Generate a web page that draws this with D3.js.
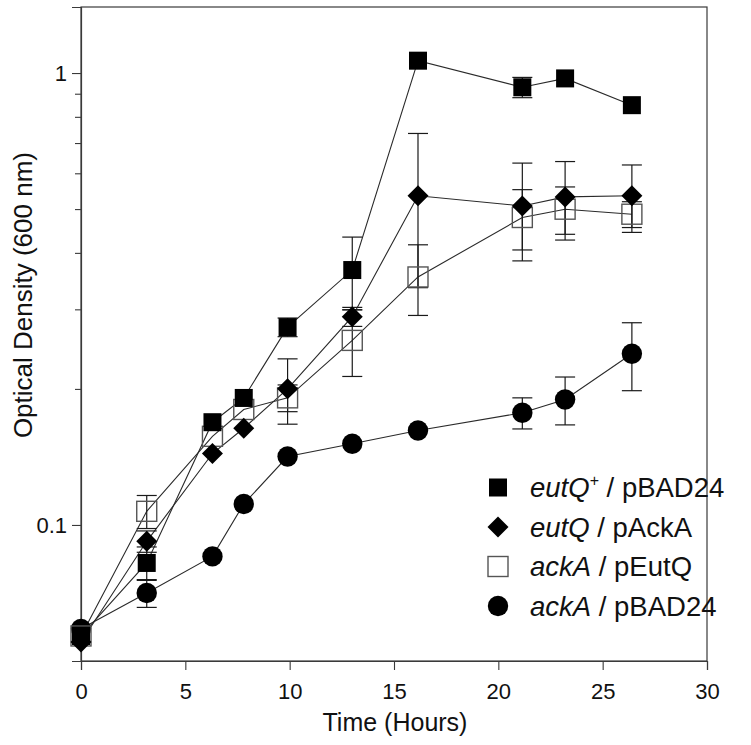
<!DOCTYPE html>
<html>
<head>
<meta charset="utf-8">
<script src="https://cdn.jsdelivr.net/npm/d3@7"></script>
<style>
  html, body { margin: 0; padding: 0; background: #fff; }
  svg { display: block; font-family: "Liberation Sans", Arial, sans-serif; }
</style>
</head>
<body>
<svg id="chart" width="751" height="745"></svg>
<script>
// ---- data ----
const times = [0, 3.15, 6.3, 7.8, 9.9, 13.0, 16.15, 21.15, 23.2, 26.4];

const eutQplus_pBAD24     = [0.0568, 0.0824, 0.1688, 0.191, 0.274, 0.3665, 1.065, 0.93, 0.973, 0.849];
const eutQplus_pBAD24_err = [0, 0.007, 0, 0, 0.013, 0.067, 0, 0.048, 0, 0];

const eutQ_pAckA     = [0.0551, 0.092, 0.1439, 0.1637, 0.2001, 0.289, 0.535, 0.508, 0.532, 0.535];
const eutQ_pAckA_err = [0, 0.005, 0, 0, 0.033, 0.014, 0.2, 0.124, 0.105, 0.091];

const ackA_pEutQ     = [0.0568, 0.1072, 0.1571, 0.1801, 0.1911, 0.2561, 0.3538, 0.479, 0.4997, 0.4871];
const ackA_pEutQ_err = [0, 0.009, 0, 0, 0.013, 0.043, 0.063, 0.073, 0.06, 0.032];

const ackA_pBAD24     = [0.0589, 0.0707, 0.0852, 0.1113, 0.1417, 0.1512, 0.1618, 0.1771, 0.1895, 0.2392];
const ackA_pBAD24_err = [0, 0.005, 0, 0, 0, 0, 0, 0.014, 0.023, 0.041];

const xTicks = [0, 5, 10, 15, 20, 25, 30];
const yMajorTicks = [0.1, 1];
const yMinorTicks = [0.2, 0.3, 0.4, 0.5, 0.6, 0.7, 0.8, 0.9];

const xLabel = "Time (Hours)";
const yLabel = "Optical Density (600 nm)";

// legend labels: [italic part, superscript, rest]
const legendLabels = [
  ["eutQ", "+", " / pBAD24"],
  ["eutQ", "", " / pAckA"],
  ["ackA", "", " / pEutQ"],
  ["ackA", "", " / pBAD24"]
];

// ---- layout ----
const svg = d3.select("#chart");
const pLeft = 81, pRight = 707, pTop = 7, pBottom = 661;

const x = d3.scaleLinear().domain([0, 30]).range([pLeft, pRight]);
const y = d3.scaleLog().domain([0.05, 1.4]).range([pBottom, pTop]);

const axisColor = "#3a3a3a";
const fontFam = "'Liberation Sans', Arial, sans-serif";

// frame
svg.append("rect")
  .attr("x", pLeft).attr("y", pTop)
  .attr("width", pRight - pLeft).attr("height", pBottom - pTop)
  .attr("fill", "none").attr("stroke", axisColor).attr("stroke-width", 1.2);

// x axis
const xAxis = d3.axisBottom(x).tickValues(xTicks).tickSize(9).tickPadding(13).tickFormat(d3.format("d"));
const gx = svg.append("g").attr("transform", `translate(0,${pBottom})`).call(xAxis);
gx.select(".domain").attr("stroke", axisColor).attr("stroke-width", 1.2);
gx.selectAll(".tick line").attr("stroke", axisColor).attr("stroke-width", 1.1);
gx.selectAll(".tick text").attr("font-size", 22).attr("fill", "#111").attr("font-family", fontFam);

// y axis major
const yAxis = d3.axisLeft(y).tickValues(yMajorTicks).tickSize(9).tickPadding(5).tickFormat(d => d3.format("")(d));
const gy = svg.append("g").attr("transform", `translate(${pLeft},0)`).call(yAxis);
gy.select(".domain").attr("stroke", axisColor).attr("stroke-width", 1.2);
gy.selectAll(".tick line").attr("stroke", axisColor).attr("stroke-width", 1.1);
gy.selectAll(".tick text").attr("font-size", 22).attr("fill", "#111").attr("font-family", fontFam);

// y axis minor
const yMinor = d3.axisLeft(y).tickValues(yMinorTicks).tickSize(6).tickFormat("");
const gym = svg.append("g").attr("transform", `translate(${pLeft},0)`).call(yMinor);
gym.select(".domain").remove();
gym.selectAll(".tick line").attr("stroke", axisColor).attr("stroke-width", 1.1);

// axis labels
svg.append("text")
  .attr("x", (x(0) + x(30)) / 2 + 1).attr("y", 731)
  .attr("text-anchor", "middle").attr("font-size", 25).attr("fill", "#111")
  .text(xLabel);

svg.append("text")
  .attr("transform", `translate(32,152) rotate(-90)`)
  .attr("text-anchor", "end").attr("font-size", 26).attr("fill", "#111")
  .text(yLabel);

// ---- series ----
const series = [
  { vals: ackA_pBAD24, err: ackA_pBAD24_err, shape: "circle" },
  { vals: ackA_pEutQ, err: ackA_pEutQ_err, shape: "openSquare" },
  { vals: eutQ_pAckA, err: eutQ_pAckA_err, shape: "diamond" },
  { vals: eutQplus_pBAD24, err: eutQplus_pBAD24_err, shape: "square" }
];

const line = d3.line().x(d => x(d.t)).y(d => y(d.v));

series.forEach(s => {
  s.pts = times.map((t, i) => ({ t, v: s.vals[i], e: s.err[i] }));
});

// lines
series.forEach(s => {
  svg.append("path").datum(s.pts)
    .attr("d", line).attr("fill", "none")
    .attr("stroke", "#2a2a2a").attr("stroke-width", 1.1);
});

// error bars
const capW = 10;
series.forEach(s => {
  const g = svg.append("g").attr("stroke", "#1a1a1a").attr("stroke-width", 1.2).attr("fill", "none");
  s.pts.filter(p => p.e > 0).forEach(p => {
    const cx = x(p.t), y1 = y(p.v + p.e), y0 = y(p.v - p.e);
    g.append("line").attr("x1", cx).attr("x2", cx).attr("y1", y1).attr("y2", y0);
    g.append("line").attr("x1", cx - capW).attr("x2", cx + capW).attr("y1", y1).attr("y2", y1);
    g.append("line").attr("x1", cx - capW).attr("x2", cx + capW).attr("y1", y0).attr("y2", y0);
  });
});

function drawMarker(g, shape, cx, cy) {
  if (shape === "circle") {
    g.append("circle").attr("cx", cx).attr("cy", cy).attr("r", 10.2).attr("fill", "#000");
  } else if (shape === "square") {
    g.append("rect").attr("x", cx - 9).attr("y", cy - 9).attr("width", 18).attr("height", 18).attr("fill", "#000");
  } else if (shape === "openSquare") {
    g.append("rect").attr("x", cx - 10).attr("y", cy - 10).attr("width", 20).attr("height", 20)
      .attr("fill", "none").attr("stroke", "#555").attr("stroke-width", 1.4);
  } else if (shape === "diamond") {
    const r = 10.5;
    g.append("path").attr("d", `M${cx},${cy - r}L${cx + r},${cy}L${cx},${cy + r}L${cx - r},${cy}Z`).attr("fill", "#000");
  }
}

// markers
series.forEach(s => {
  const g = svg.append("g");
  s.pts.forEach(p => drawMarker(g, s.shape, x(p.t), y(p.v)));
});

// ---- legend ----
const legendShapes = ["square", "diamond", "openSquare", "circle"];
const legendY = [487.5, 527, 566.5, 606];
const lg = svg.append("g");
legendShapes.forEach((sh, i) => {
  drawMarker(lg, sh, 498, legendY[i]);
  const t = lg.append("text").attr("x", 530).attr("y", legendY[i] + 9.5)
    .attr("font-size", 27.5).attr("fill", "#111");
  t.append("tspan").attr("font-style", "italic").text(legendLabels[i][0]);
  if (legendLabels[i][1]) {
    t.append("tspan").attr("font-size", 16).attr("dy", -11).text(legendLabels[i][1]);
    t.append("tspan").attr("dy", 11).text(legendLabels[i][2]);
  } else {
    t.append("tspan").text(legendLabels[i][2]);
  }
});
</script>
</body>
</html>
